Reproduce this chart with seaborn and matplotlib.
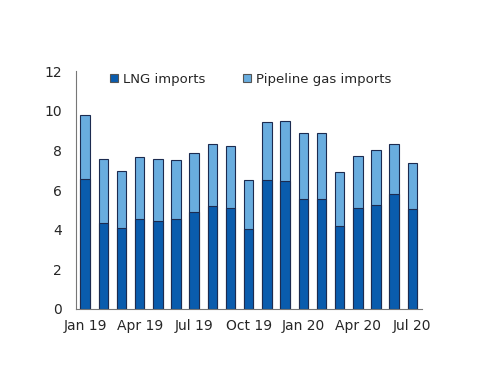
import matplotlib
matplotlib.use("Agg")
import matplotlib.pyplot as plt
from matplotlib.patches import Patch
import seaborn as sns
import pandas as pd
import numpy as np

months = ["Jan 19", "Feb 19", "Mar 19", "Apr 19", "May 19", "Jun 19", "Jul 19",
          "Aug 19", "Sep 19", "Oct 19", "Nov 19", "Dec 19", "Jan 20", "Feb 20",
          "Mar 20", "Apr 20", "May 20", "Jun 20", "Jul 20"]
lng = [6.57, 4.34, 4.07, 4.54, 4.44, 4.54, 4.89, 5.20, 5.09, 4.04,
       6.49, 6.45, 5.56, 5.56, 4.19, 5.09, 5.23, 5.78, 5.04]
pipeline = [3.20, 3.20, 2.87, 3.10, 3.10, 2.97, 2.99, 3.11, 3.12, 2.46,
            2.95, 3.04, 3.32, 3.32, 2.71, 2.62, 2.81, 2.53, 2.30]
tick_labels = ["Jan 19", "Apr 19", "Jul 19", "Oct 19", "Jan 20", "Apr 20", "Jul 20"]

df = pd.DataFrame({"month": months, "lng": lng, "pipeline": pipeline})
df["total"] = df["lng"] + df["pipeline"]

sns.set_style("white")
plt.rcParams["font.family"] = ["DejaVu Sans"]

dark = "#0a5cad"
light = "#69addf"
edge = "#1c2b50"

fig = plt.figure(figsize=(5, 3.86), dpi=100)
ax = fig.add_axes([0.152, 0.1995, 0.691, 0.6165])

sns.barplot(data=df, x="month", y="total", color=light, width=0.52,
            edgecolor=edge, linewidth=0.8, saturation=1, ax=ax)
sns.barplot(data=df, x="month", y="lng", color=dark, width=0.52,
            edgecolor=edge, linewidth=0.8, saturation=1, ax=ax)

ax.set_xlim(-0.5, 18.5)
ax.set_ylim(0, 12)
ax.set_yticks([0, 2, 4, 6, 8, 10, 12])
pos = [months.index(m) for m in tick_labels]
ax.set_xticks(pos)
ax.set_xticklabels(tick_labels)
ax.set_xticks(np.arange(-0.5, 18.6, 3), minor=True)
ax.tick_params(axis="x", which="major", length=0, pad=7, labelsize=10)
ax.tick_params(axis="x", which="minor", length=4, direction="out", color="#555555", width=0.8)
ax.tick_params(axis="y", length=4, direction="out", color="#555555", width=0.8, labelsize=10, pad=6)
ax.set_xlabel("")
ax.set_ylabel("")

for s in ["top", "right"]:
    ax.spines[s].set_visible(False)
for s in ["left", "bottom"]:
    ax.spines[s].set_color("#777777")
    ax.spines[s].set_linewidth(0.8)

handles = [Patch(facecolor=dark, edgecolor="#555555", linewidth=0.8, label="LNG imports"),
           Patch(facecolor=light, edgecolor="#555555", linewidth=0.8, label="Pipeline gas imports")]
ax.legend(handles=handles, loc="center", bbox_to_anchor=(0.506, 0.966), ncol=2,
          frameon=False, fontsize=9.5, handlelength=0.6, handleheight=0.6,
          handletextpad=0.4, columnspacing=2.8)

fig.savefig("out.png", dpi=100)
